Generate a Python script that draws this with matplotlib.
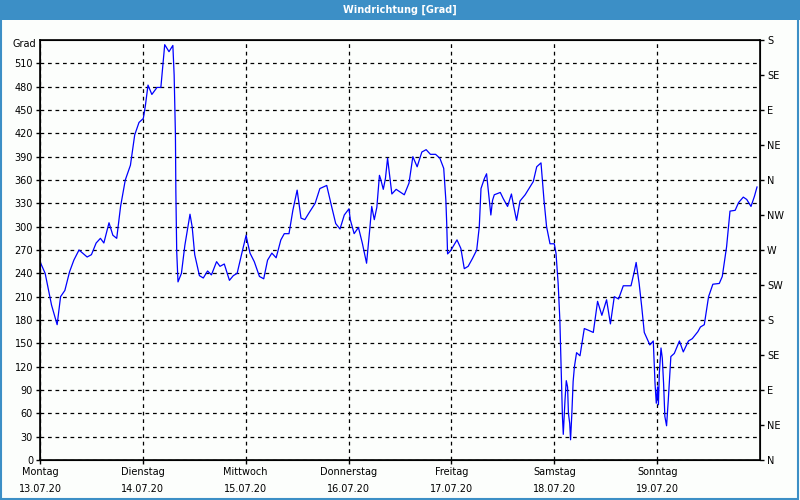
import matplotlib
matplotlib.use("Agg")
import matplotlib.pyplot as plt
from matplotlib.patches import Rectangle

# Stunden seit Montag 00:00 und Windrichtung in Grad
hours = [0.0, 1.2, 1.9, 2.7, 4.0, 4.8, 5.8, 6.9, 7.9, 9.1, 11.0, 12.0, 13.1, 14.1, 14.9,
         16.1, 17.0, 17.9, 18.8, 19.9, 21.1, 22.1, 23.1, 24.1, 24.6, 25.2, 26.1, 27.3,
         28.2, 29.1, 30.1, 31.0, 31.3, 31.6, 31.7, 31.9, 32.2, 33.0, 33.8, 35.0, 35.5,
         36.1, 37.2, 38.1, 39.1, 40.0, 41.2, 42.0, 43.0, 44.2, 45.1, 46.0, 47.1, 48.1,
         48.3, 49.0, 50.0, 51.2, 52.2, 53.1, 54.1, 55.1, 56.2, 57.0, 58.1, 59.0, 60.0,
         60.9, 61.8, 62.8, 64.2, 65.3, 66.9, 68.0, 69.0, 70.0, 71.0, 72.1, 72.4, 73.3,
         74.3, 75.2, 76.2, 77.0, 77.4, 78.0, 78.6, 79.2, 79.5, 80.1, 80.6, 81.1, 81.4,
         82.1, 83.1, 85.0, 86.1, 87.0, 88.0, 89.1, 90.1, 91.1, 92.3, 93.3, 94.2, 94.7,
         94.9, 95.1, 95.8, 97.3, 98.2, 99.0, 99.9, 100.9, 101.9, 102.5, 102.9, 103.7,
         104.2, 104.6, 105.2, 105.6, 106.0, 107.4, 108.1, 109.1, 110.0, 110.5, 111.2,
         112.0, 113.2, 114.3, 115.1, 115.9, 116.9, 117.6, 118.2, 119.0, 120.0, 120.4,
         120.9, 121.3, 121.7, 121.9, 122.1, 122.3, 122.5, 122.8, 123.1, 123.3, 123.6,
         123.8, 124.1, 124.4, 124.7, 125.2, 126.0, 127.0, 127.9, 129.1, 130.1, 131.1,
         132.2, 133.1, 134.0, 135.0, 136.1, 137.9, 138.7, 139.1, 139.8, 140.4, 141.0,
         142.3, 143.1, 143.5, 143.8, 144.1, 144.3, 144.5, 144.9, 145.2, 145.5, 145.8,
         146.2, 146.6, 147.2, 148.0, 149.2, 150.1, 151.3, 152.2, 153.5, 154.1, 155.0,
         156.0, 157.0, 158.5, 159.2, 160.2, 161.0, 162.2, 163.0, 164.1, 164.9, 165.9,
         166.7, 167.3]
grad = [255, 240, 221, 199, 174, 210, 218, 242, 257, 270, 261, 264, 279, 285, 279,
        305, 289, 285, 326, 360, 379, 418, 434, 439, 456, 482, 470, 479,
        479, 534, 525, 533, 495, 418, 345, 268, 229, 240, 276, 316, 300,
        264, 237, 234, 243, 238, 255, 249, 252, 231, 237, 240, 266, 289,
        283, 266, 255, 236, 233, 257, 266, 260, 283, 291, 291, 321, 347,
        311, 309, 318, 330, 349, 353, 327, 304, 297, 315, 323, 309, 291,
        299, 279, 253, 300, 326, 309, 325, 366, 361, 348, 362, 388, 374,
        342, 348, 341, 356, 390, 377, 396, 399, 393, 393, 388, 375, 334,
        304, 265, 269, 283, 272, 246, 249, 259, 270, 300, 349, 362,
        368, 347, 315, 334, 341, 344, 336, 326, 342, 327, 308,
        333, 341, 351, 358, 377, 382, 334, 300, 278, 278, 266,
        227, 180, 94, 56, 33, 56, 77, 102, 94, 60, 47,
        26, 60, 101, 120, 138, 134, 169, 167, 164, 204, 186,
        206, 175, 210, 207, 224, 224, 243, 254, 227, 197, 164,
        148, 153, 99, 73, 94, 71, 111, 144, 131, 99, 56,
        44, 77, 133, 137, 153, 139, 153, 156, 165, 171, 174,
        210, 226, 227, 236, 274, 320, 321, 331, 338, 335, 326,
        339, 351]

day_names = ["Montag", "Dienstag", "Mittwoch", "Donnerstag", "Freitag", "Samstag", "Sonntag"]
day_dates = ["13.07.20", "14.07.20", "15.07.20", "16.07.20", "17.07.20", "18.07.20", "19.07.20"]
compass = ["N", "NE", "E", "SE", "S", "SW", "W", "NW", "N", "NE", "E", "SE", "S"]

fig = plt.figure(figsize=(8, 5), dpi=100)
fig.patch.set_facecolor("#fcfefc")

# Titelleiste und Rahmen
fig.patches.append(Rectangle((0, 0.96), 1, 0.04, transform=fig.transFigure,
                             facecolor="#3c8fc6", edgecolor="none", zorder=0))
fig.patches.append(Rectangle((0.001, 0.003), 0.997, 0.995, transform=fig.transFigure,
                             facecolor="none", edgecolor="#3c8fc6", linewidth=1.5, zorder=1))
fig.text(0.5, 0.981, "Windrichtung [Grad]", color="white", fontsize=7, fontweight="bold",
         ha="center", va="center")

ax = fig.add_axes([0.05, 0.08, 0.90, 0.84])
ax.set_facecolor("#fcfefc")
ax.plot(hours, grad, color="#0000ff", linewidth=0.9, zorder=3)

ax.set_xlim(0, 168)
ax.set_ylim(0, 540)
ax.set_yticks(range(0, 540, 30))
ax.set_xticks(range(0, 168, 24))
ax.set_xticklabels([f"{n}\n{d}" for n, d in zip(day_names, day_dates)], linespacing=1.9)
ax.tick_params(axis="both", labelsize=7, length=3, width=1, colors="black")
ax.tick_params(axis="x", pad=2)
ax.tick_params(axis="y", pad=2)

ax.grid(True, color="black", linestyle=(0, (3, 3)), linewidth=0.9)
for s in ax.spines.values():
    s.set_linewidth(1.2)

ax.text(-0.006, 0.99, "Grad", transform=ax.transAxes, ha="right", va="center", fontsize=7)

ax2 = ax.twinx()
ax2.set_ylim(0, 540)
ax2.set_yticks(range(0, 541, 45))
ax2.set_yticklabels(compass)
ax2.tick_params(axis="y", labelsize=7, length=3, width=1, pad=2, colors="black")

fig.savefig("out.png", dpi=100, facecolor=fig.get_facecolor())
